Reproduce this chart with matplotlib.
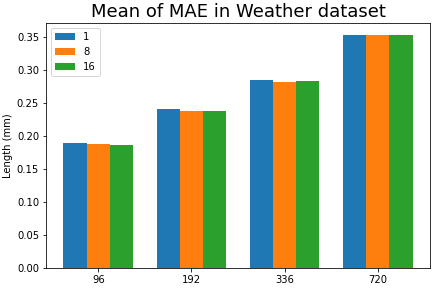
import numpy as np
import matplotlib
matplotlib.use("Agg")
import matplotlib.pyplot as plt

horizons = ["96", "192", "336", "720"]
labels = ["1", "8", "16"]
mae_1 = [0.190, 0.241, 0.285, 0.3535]
mae_8 = [0.188, 0.2385, 0.282, 0.3535]
mae_16 = [0.187, 0.2385, 0.2835, 0.3535]

x = np.arange(len(horizons))
width = 0.25

fig, ax = plt.subplots(figsize=(6, 4), dpi=72)
ax.bar(x - width, mae_1, width, label=labels[0])
ax.bar(x, mae_8, width, label=labels[1])
ax.bar(x + width, mae_16, width, label=labels[2])

ax.set_title("Mean of MAE in Weather dataset", fontsize=18)
ax.set_ylabel("Length (mm)")
ax.set_xticks(x)
ax.set_xticklabels(horizons)
ax.legend(loc="upper left")
fig.subplots_adjust(left=46 / 432, right=430 / 432, bottom=20 / 288, top=265 / 288)
fig.savefig("out.png")
